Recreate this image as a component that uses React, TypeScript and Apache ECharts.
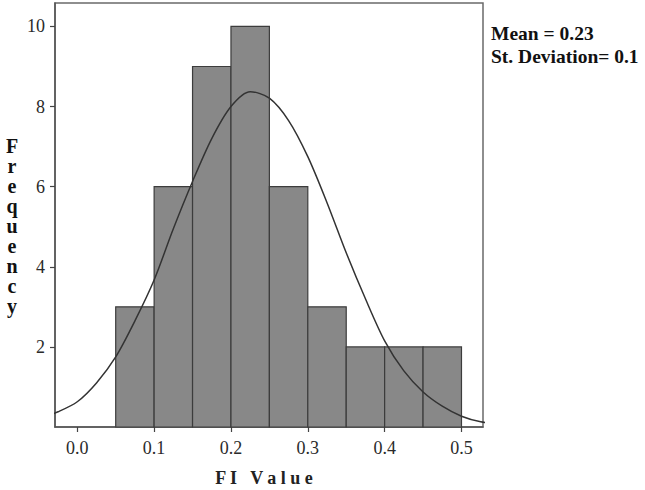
import React, { useEffect, useRef } from "react";
import * as echarts from "echarts";

const binStarts = [0.05, 0.1, 0.15, 0.2, 0.25, 0.3, 0.35, 0.4, 0.45];
const binEnds = [0.1, 0.15, 0.2, 0.25, 0.3, 0.35, 0.4, 0.45, 0.5];
const counts = [3, 6, 9, 10, 6, 3, 2, 2, 2];

const curveX = [-0.05, -0.025, 0.0, 0.025, 0.05, 0.075, 0.1, 0.125, 0.15, 0.175, 0.2, 0.225, 0.25, 0.275, 0.3, 0.325, 0.35, 0.375, 0.4, 0.425, 0.45, 0.475, 0.5, 0.525, 0.55];
const curveY = [0.2, 0.38, 0.63, 1.1, 1.75, 2.65, 3.67, 4.95, 6.13, 7.2, 8.0, 8.37, 8.21, 7.65, 6.75, 5.6, 4.35, 3.2, 2.15, 1.4, 0.875, 0.52, 0.27, 0.13, 0.07];

const xTicks = [0, 0.1, 0.2, 0.3, 0.4, 0.5];
const yTicks = [2, 4, 6, 8, 10];

const SERIF = "'Liberation Serif', 'DejaVu Serif', serif";

export default function App() {
  const ref = useRef<HTMLDivElement>(null);
  useEffect(() => {
    document.body.style.margin = "0";
    if (!ref.current) return;
    const chart = echarts.init(ref.current, null, { renderer: "svg" });
    const bins = binStarts.map((s, i) => [s, binEnds[i], counts[i]]);
    chart.setOption({
      animation: false,
      backgroundColor: "#ffffff",
      grid: {
        left: 55,
        top: 3,
        right: 162,
        bottom: 63,
        show: true,
        borderColor: "#6a6a6a",
        borderWidth: 1.5,
        backgroundColor: "transparent",
      },
      xAxis: {
        type: "value",
        min: -0.029,
        max: 0.528,
        splitLine: { show: false },
        axisLine: { show: true, onZero: false, lineStyle: { color: "#555", width: 1.5 } },
        axisTick: {
          show: true,
          customValues: xTicks,
          length: 5,
          lineStyle: { color: "#444", width: 1.2 },
        },
        axisLabel: {
          customValues: xTicks,
          formatter: (v: number) => v.toFixed(1),
          fontFamily: SERIF,
          fontSize: 18,
          color: "#2a2a2a",
          margin: 12,
        },
      },
      yAxis: {
        type: "value",
        min: 0,
        max: 10.585,
        splitLine: { show: false },
        axisLine: { show: true, onZero: false, lineStyle: { color: "#555", width: 1.5 } },
        axisTick: {
          show: true,
          customValues: yTicks,
          length: 5,
          lineStyle: { color: "#444", width: 1.2 },
        },
        axisLabel: {
          customValues: yTicks,
          fontFamily: SERIF,
          fontSize: 18,
          color: "#2a2a2a",
          margin: 10,
        },
      },
      series: [
        {
          type: "custom",
          data: bins,
          encode: { x: [0, 1], y: 2 },
          renderItem: (params: any, api: any) => {
            const p0 = api.coord([api.value(0), api.value(2)]);
            const p1 = api.coord([api.value(1), 0]);
            return {
              type: "rect",
              shape: { x: p0[0], y: p0[1], width: p1[0] - p0[0], height: p1[1] - p0[1] },
              style: { fill: "#888888", stroke: "#3c3c3c", lineWidth: 1.2 },
            };
          },
          z: 2,
        },
        {
          type: "line",
          data: curveX.map((x, i) => [x, curveY[i]]),
          smooth: 0.3,
          clip: true,
          showSymbol: false,
          symbol: "none",
          lineStyle: { color: "#333", width: 1.5 },
          z: 3,
        },
      ],
      graphic: [
        {
          type: "text",
          x: 12,
          y: 136,
          style: {
            text: "F\nr\ne\nq\nu\ne\nn\nc\ny",
            font: `bold 20px ${SERIF}`,
            lineHeight: 20,
            fill: "#111",
            align: "center",
          },
        },
        {
          type: "text",
          x: 264,
          y: 478,
          style: {
            text: "F I   V a l u e",
            font: `bold 18px ${SERIF}`,
            fill: "#222",
            align: "center",
            verticalAlign: "middle",
          },
        },
        {
          type: "text",
          x: 491,
          y: 33,
          style: {
            text: "Mean = 0.23",
            font: `bold 19.5px ${SERIF}`,
            fill: "#111",
            align: "left",
            verticalAlign: "middle",
          },
        },
        {
          type: "text",
          x: 491,
          y: 56,
          style: {
            text: "St. Deviation= 0.1",
            font: `bold 19.5px ${SERIF}`,
            fill: "#111",
            align: "left",
            verticalAlign: "middle",
          },
        },
      ],
    });
    return () => chart.dispose();
  }, []);
  return <div ref={ref} style={{ width: 645, height: 490 }} />;
}
